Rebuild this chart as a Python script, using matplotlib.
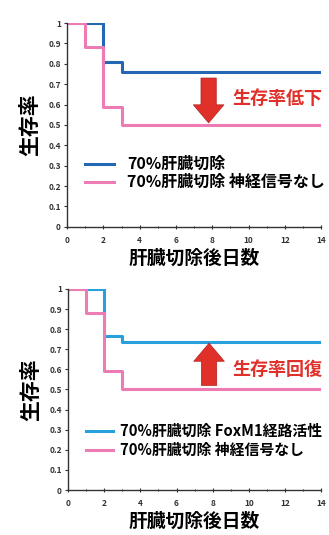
import matplotlib
matplotlib.use('Agg')
import matplotlib.pyplot as plt

plt.rcParams['font.family'] = ['Noto Sans CJK JP', 'DejaVu Sans']

# survival step data (day, rate)
days_ctrl = [0, 2, 3, 14]
rate_ctrl = [1.0, 0.81, 0.76, 0.76]

days_nonerve = [0, 1, 2, 3, 14]
rate_nonerve = [1.0, 0.88, 0.59, 0.50, 0.50]

days_foxm1 = [0, 2, 2.8, 3.0, 14]
rate_foxm1 = [1.0, 0.765, 0.765, 0.735, 0.735]

label_ctrl = '70%肝臓切除'
label_nonerve = '70%肝臓切除 神経信号なし'
label_foxm1 = '70%肝臓切除 FoxM1経路活性'

xticks = [0, 2, 4, 6, 8, 10, 12, 14]
yticks = [0, 0.1, 0.2, 0.3, 0.4, 0.5, 0.6, 0.7, 0.8, 0.9, 1.0]
ytick_labels = ['0', '0.1', '0.2', '0.3', '0.4', '0.5', '0.6', '0.7', '0.8', '0.9', '1']

BLUE_DARK = '#2468b4'
BLUE_LIGHT = '#27a0dc'
PINK = '#ee7cb4'
RED = '#e0302a'

ARROW = dict(facecolor=RED, edgecolor='#b02020', lw=0.5,
             width=11, headwidth=22, headlength=13)


def style_axes(ax):
    ax.set_xlim(0, 14)
    ax.set_ylim(0, 1)
    for s in ['top', 'right']:
        ax.spines[s].set_visible(False)
    for s in ['left', 'bottom']:
        ax.spines[s].set_color('#333333')
        ax.spines[s].set_linewidth(1.0)
    ax.set_xticks(xticks)
    ax.set_xticks(range(15), minor=True)
    ax.set_yticks(yticks)
    ax.set_yticklabels(ytick_labels)
    ax.tick_params(axis='both', labelsize=6, colors='#333333', length=2.5,
                   width=0.8, pad=2)
    ax.tick_params(axis='x', which='both', direction='inout', pad=5)
    ax.tick_params(axis='x', which='minor', length=2)
    for lab in ax.get_xticklabels() + ax.get_yticklabels():
        lab.set_fontweight('bold')
    ax.set_ylabel('生存率', fontsize=15, fontweight='bold', labelpad=6)
    ax.set_xlabel('肝臓切除後日数', fontsize=13.5, fontweight='bold', labelpad=3)


fig = plt.figure(figsize=(3.29, 5.35), dpi=100)
ax1 = fig.add_axes([0.204, 0.576, 0.772, 0.381])
ax2 = fig.add_axes([0.207, 0.084, 0.769, 0.376])

# top panel
ax1.step(days_ctrl, rate_ctrl, where='post', color=BLUE_DARK, lw=2.2,
         label=label_ctrl)
ax1.step(days_nonerve, rate_nonerve, where='post', color=PINK, lw=2.2,
         label=label_nonerve)
style_axes(ax1)
ax1.annotate('', xy=(7.8, 0.51), xytext=(7.8, 0.73), arrowprops=ARROW)
ax1.text(9.1, 0.63, '生存率低下', color=RED, fontsize=13,
         fontweight='bold', va='center', ha='left')
ax1.legend(loc='lower left', bbox_to_anchor=(0.07, 0.18), frameon=False,
           prop={'size': 11.5, 'weight': 'bold'}, handlelength=1.85,
           handletextpad=0.8, labelspacing=0.12, borderaxespad=0,
           borderpad=0)

# bottom panel
ax2.step(days_foxm1, rate_foxm1, where='post', color=BLUE_LIGHT, lw=2.2,
         label=label_foxm1)
ax2.step(days_nonerve, rate_nonerve, where='post', color=PINK, lw=2.2,
         label=label_nonerve)
style_axes(ax2)
ax2.annotate('', xy=(7.8, 0.73), xytext=(7.8, 0.52), arrowprops=ARROW)
ax2.text(9.1, 0.6, '生存率回復', color=RED, fontsize=13,
         fontweight='bold', va='center', ha='left')
ax2.legend(loc='lower left', bbox_to_anchor=(0.07, 0.16), frameon=False,
           prop={'size': 10.7, 'weight': 'bold'}, handlelength=1.8,
           handletextpad=0.5, labelspacing=0.2, borderaxespad=0,
           borderpad=0)

fig.savefig('out.png', dpi=100)
